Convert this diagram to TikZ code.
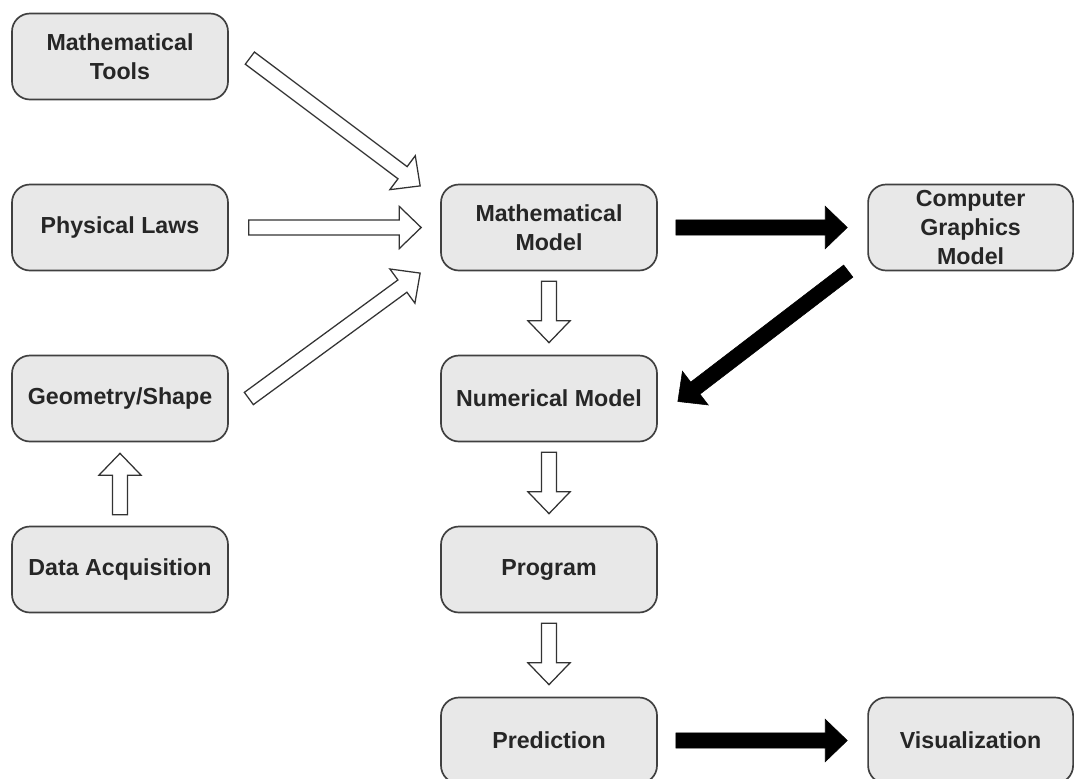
\documentclass[tikz,border=0pt]{standalone}
\usepackage{fontspec}
\setmainfont{Liberation Sans}
\usepackage{tikz}
\usetikzlibrary{calc, positioning}
\newcommand{\boxfont}{\fontsize{16.5}{20.5}\selectfont\bfseries}
\newcommand{\shaftw}{0.19cm}
\newcommand{\headw}{0.53cm}
\newcommand{\headl}{0.55cm}
% block arrow from #2 (tail) to #3 (tip)
\newcommand{\blockarrow}[3][hollowarrow]{%
  \coordinate (ba-h) at ($(#3)!\headl!(#2)$);
  \draw[#1] ($(#2)!\shaftw!90:(#3)$) -- ($(ba-h)!\shaftw!90:(#3)$) -- ($(ba-h)!\headw!90:(#3)$)
    -- (#3) -- ($(ba-h)!\headw!-90:(#3)$) -- ($(ba-h)!\shaftw!-90:(#3)$) -- ($(#2)!\shaftw!-90:(#3)$) -- cycle;
}
\tikzset{
    roundnode/.style = {draw=black!75, fill=black!9, rectangle, rounded corners=0.45cm, line width=1.2pt,
      minimum width=5.4cm, minimum height=2.15cm, inner sep=0em, node distance=0em,
      align=center, font=\boxfont, text=black!85},
    narrownode/.style = {roundnode, minimum width=5.125cm},
    hollowarrow/.style = {draw=black!80, fill=white, line width=0.9pt, line join=miter},
    solidarrow/.style = {draw=black, fill=black, line width=0.4pt, line join=miter}
}

\begin{document}
\begin{tikzpicture}
    \useasboundingbox (0,0) rectangle (26.875,-19.45);

    % left column
    \node [name=MT, roundnode] at (3.0,-1.4125) {Mathematical\\Tools};
    \node [name=PL, roundnode, below of = MT, yshift=-4.275cm] {Physical Laws};
    \node [name=GS, roundnode, below of = PL, yshift=-4.275cm] {Geometry/Shape};
    \node [name=DA, roundnode, below of = GS, yshift=-4.275cm] {Data Acquisition};

    % middle column
    \node [name=MM, roundnode, right of = PL, xshift=10.725cm] {Mathematical\\Model};
    \node [name=NM, roundnode, below of = MM, yshift=-4.275cm] {Numerical Model};
    \node [name=PR, roundnode, below of = NM, yshift=-4.275cm] {Program};
    \node [name=PD, roundnode, below of = PR, yshift=-4.275cm] {Prediction};

    % right column
    \node [name=CG, narrownode, right of = MM, xshift=10.54cm] {Computer\\Graphics\\Model};
    \node [name=VZ, narrownode, right of = PD, xshift=10.54cm] {Visualization};

    % arrow ends
    \coordinate (MTout) at ($(MT.east)+(0.525,-0.04)$);
    \coordinate (MMin1) at ($(MM.west)+(-0.5,1.04)$);
    \coordinate (PLout) at ($(PL.east)+(0.5,0)$);
    \coordinate (MMin2) at ($(MM.west)+(-0.475,0)$);
    \coordinate (GSout) at ($(GS.east)+(0.5,0)$);
    \coordinate (MMin3) at ($(MM.west)+(-0.5,-1.14)$);
    \coordinate (DAout) at ($(DA.north)+(0,0.275)$);
    \coordinate (GSin) at ($(GS.south)+(0,-0.275)$);
    \coordinate (MMout) at ($(MM.south)+(0,-0.25)$);
    \coordinate (NMin) at ($(NM.north)+(0,0.3)$);
    \coordinate (NMout) at ($(NM.south)+(0,-0.25)$);
    \coordinate (PRin) at ($(PR.north)+(0,0.3)$);
    \coordinate (PRout) at ($(PR.south)+(0,-0.25)$);
    \coordinate (PDin) at ($(PD.north)+(0,0.3)$);
    \coordinate (MMright) at ($(MM.east)+(0.45,0)$);
    \coordinate (CGin) at ($(CG.west)+(-0.5,0)$);
    \coordinate (CGout) at ($(CG.west)+(-0.475,-1.09)$);
    \coordinate (NMright) at ($(NM.east)+(0.5,-0.075)$);
    \coordinate (PDright) at ($(PD.east)+(0.45,0)$);
    \coordinate (VZin) at ($(VZ.west)+(-0.5,0)$);

    \blockarrow{MTout}{MMin1}
    \blockarrow{PLout}{MMin2}
    \blockarrow{GSout}{MMin3}
    \blockarrow{DAout}{GSin}
    \blockarrow{MMout}{NMin}
    \blockarrow{NMout}{PRin}
    \blockarrow{PRout}{PDin}

    \blockarrow[solidarrow]{MMright}{CGin}
    \blockarrow[solidarrow]{CGout}{NMright}
    \blockarrow[solidarrow]{PDright}{VZin}
\end{tikzpicture}
\end{document}
